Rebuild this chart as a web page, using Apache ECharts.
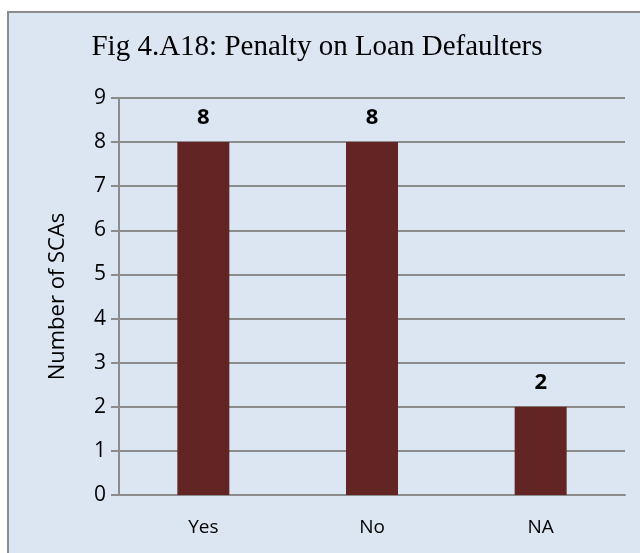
<!DOCTYPE html>
<html><head><meta charset="utf-8">
<script src="https://cdn.jsdelivr.net/npm/echarts@6/dist/echarts.min.js"></script>
<style>html,body{margin:0;padding:0;background:#fff}#c{width:640px;height:553px}</style>
</head><body><div id="c"></div>
<script>
var categories = ["Yes", "No", "NA"];
var values = [8, 8, 2];
var yTicks = [0, 1, 2, 3, 4, 5, 6, 7, 8, 9];
var titleText = "Fig 4.A18: Penalty on Loan Defaulters";
var yName = "Number of SCAs";

var chart = echarts.init(document.getElementById('c'), null, {renderer: 'canvas'});
chart.setOption({
  backgroundColor: '#ffffff',
  animation: false,
  graphic: [{
    type: 'rect', left: 7, top: 11, shape: {width: 660, height: 580},
    style: {fill: '#dce6f2', stroke: '#8c8c8c', lineWidth: 2}, z: -10
  }],
  title: {
    text: titleText, left: 312, top: 28, textAlign: 'center',
    textStyle: {fontFamily: 'Liberation Serif', fontSize: 29, fontWeight: 'normal', color: '#000'}
  },
  grid: {left: 119, right: 15, top: 98, bottom: 58, containLabel: false},
  xAxis: {
    type: 'category', data: categories,
    axisLine: {lineStyle: {color: '#8c8c8c', width: 2}},
    axisTick: {show: false},
    axisLabel: {fontFamily: 'Open Sans', fontSize: 19, color: '#000', margin: 23}
  },
  yAxis: {
    type: 'value', min: yTicks[0], max: yTicks[yTicks.length - 1], interval: 1,
    name: yName, nameLocation: 'middle', nameGap: 50,
    nameTextStyle: {fontFamily: 'Open Sans', fontSize: 22, color: '#000'},
    axisLine: {show: true, lineStyle: {color: '#8c8c8c', width: 2}},
    axisTick: {show: true, length: 8, lineStyle: {color: '#8c8c8c', width: 2}},
    axisLabel: {fontFamily: 'Open Sans', fontSize: 21, color: '#000', margin: 13},
    splitLine: {lineStyle: {color: '#8c8c8c', width: 2}}
  },
  series: [{
    type: 'bar', data: values, barWidth: 52,
    itemStyle: {color: '#632523'},
    label: {show: true, position: 'top', distance: 13, fontFamily: 'Open Sans', fontWeight: 'bold', fontSize: 22, color: '#000'}
  }]
});
</script></body></html>
